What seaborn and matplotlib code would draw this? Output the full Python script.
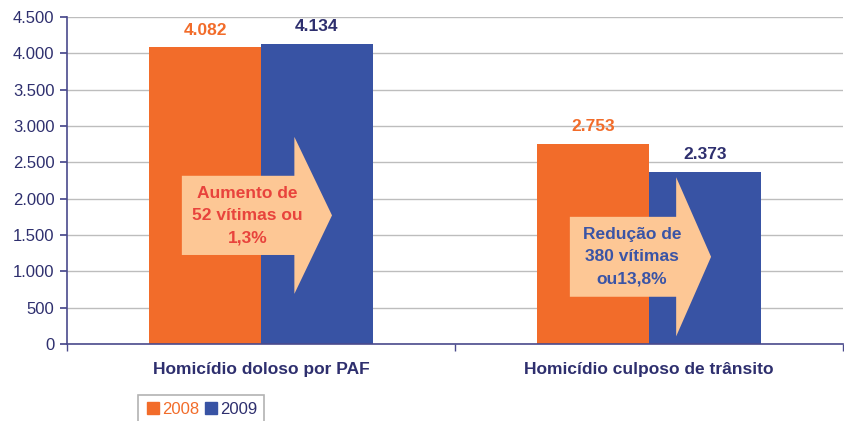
import matplotlib
matplotlib.use("Agg")
import matplotlib.pyplot as plt
import seaborn as sns
import pandas as pd
from matplotlib.patches import FancyArrow
from matplotlib.lines import Line2D
from matplotlib.ticker import FuncFormatter, FixedLocator

categories = ["Homicídio doloso por PAF", "Homicídio culposo de trânsito"]
years = ["2008", "2009"]
values_2008 = [4082, 2753]
values_2009 = [4134, 2373]
label_2008 = ["4.082", "2.753"]
label_2009 = ["4.134", "2.373"]
arrow_texts = ["Aumento de\n52 vítimas ou\n1,3%", "Redução de\n380 vítimas\nou13,8%"]

ORANGE = "#F26C2A"
BLUE = "#3853A4"
NAVY = "#2E2F6E"
ARROW_FILL = "#FDC795"
ARROW_TXT = ["#E8433C", "#3A54A6"]

df = pd.DataFrame({
    "cat": categories * 2,
    "year": [years[0]] * 2 + [years[1]] * 2,
    "val": values_2008 + values_2009,
})

sns.set_theme(style="white")
plt.rcParams["font.family"] = ["Liberation Sans", "DejaVu Sans"]

fig = plt.figure(figsize=(8.45, 4.21), dpi=100)
ax = fig.add_axes([67 / 845, 1 - 344 / 421, (843 - 67) / 845, (344 - 17) / 421])

sns.barplot(data=df, x="cat", y="val", hue="year", palette=[ORANGE, BLUE],
            width=0.577, gap=0, saturation=1, ax=ax, legend=True, linewidth=0,
            edgecolor="none")

ax.set_xlim(-0.5, 1.5)
ax.set_ylim(0, 4500)
ax.set_yticks(range(0, 4501, 500))
ax.yaxis.set_major_formatter(FuncFormatter(lambda v, p: f"{int(v):,}".replace(",", ".")))
ax.grid(axis="y", color="#BDBDBD", linewidth=1)
ax.set_axisbelow(True)
for s in ["top", "right"]:
    ax.spines[s].set_visible(False)
for s in ["left", "bottom"]:
    ax.spines[s].set_color("#4A4A8C")
    ax.spines[s].set_linewidth(1.2)
ax.set_xlabel("")
ax.set_ylabel("")
ax.tick_params(axis="y", length=5, color="#4A4A8C", labelsize=12, labelcolor=NAVY, pad=4, left=True)
ax.tick_params(axis="x", which="major", length=0, labelsize=12.5, labelcolor=NAVY, pad=13)
for t in ax.get_xticklabels():
    t.set_fontweight("bold")
ax.xaxis.set_minor_locator(FixedLocator([-0.5, 0.5, 1.5]))
ax.tick_params(axis="x", which="minor", length=5, color="#4A4A8C", bottom=True)

# value labels
for cont, labels, col in zip(ax.containers, [label_2008, label_2009], [ORANGE, NAVY]):
    ax.bar_label(cont, labels=labels, padding=7, color=col, fontsize=12.5, fontweight="bold")

# arrows: category, start offset, tip offset, y centre, body width, head width, head length, text offset x, text y
arrow_specs = [
    (0, -0.204, 0.183, 1770, 1090, 2160, 0.097, -0.035, 1770),
    (1, -0.204, 0.160, 1200, 1100, 2190, 0.090, -0.044, 1200),
]
for i, (c, x0, x1, yc, bw, hw, hl, tx, ty) in enumerate(arrow_specs):
    arr = FancyArrow(c + x0, yc, x1 - x0, 0, width=bw, head_width=hw, head_length=hl,
                     length_includes_head=True, facecolor=ARROW_FILL, edgecolor="none",
                     zorder=5)
    ax.add_patch(arr)
    ax.text(c + tx, ty, arrow_texts[i], ha="center", va="center", color=ARROW_TXT[i],
            fontsize=12.5, fontweight="bold", linespacing=1.6, zorder=6)

# legend
ax.get_legend().remove()
hs = [Line2D([], [], marker="s", linestyle="none", markersize=9, markerfacecolor=ORANGE, markeredgecolor=ORANGE),
      Line2D([], [], marker="s", linestyle="none", markersize=9, markerfacecolor=BLUE, markeredgecolor=BLUE)]
lg = fig.legend(hs, years, loc="upper left", bbox_to_anchor=(138 / 845, 1 - 395 / 421), ncol=2,
                frameon=True, fancybox=False, fontsize=12, handletextpad=0.05, columnspacing=0.2,
                borderpad=0.4, handlelength=1.0, borderaxespad=0)
lg.get_frame().set_edgecolor("#A0A0A0")
lg.get_frame().set_linewidth(1.2)
for t, c in zip(lg.get_texts(), [ORANGE, NAVY]):
    t.set_color(c)

fig.savefig("out.png", dpi=100)
